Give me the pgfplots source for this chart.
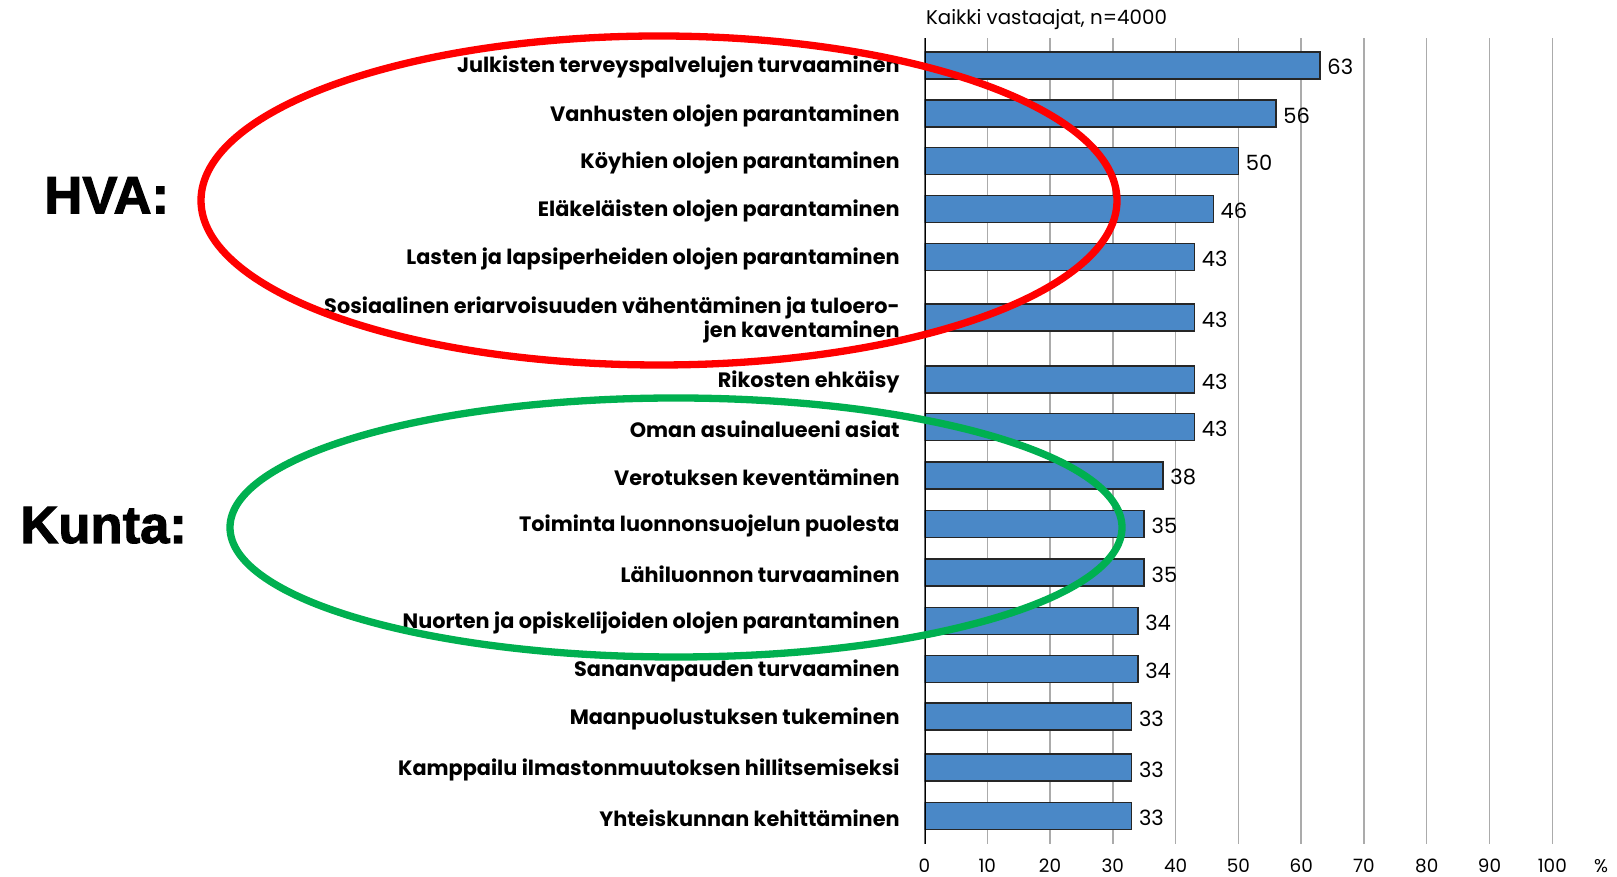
\documentclass[border=0pt]{standalone}
\usepackage{fontspec}
\setmainfont{Poppins}
\newfontfamily\heavyfont{Liberation Sans Bold}[FakeBold=2]
\usepackage{pgfplots}
\pgfplotsset{compat=1.18}
\definecolor{barblue}{RGB}{74,136,199}
\definecolor{ellred}{RGB}{255,0,0}
\definecolor{ellgreen}{RGB}{0,176,80}
\begin{document}
\begin{tikzpicture}[x=1pt,y=1pt]
\useasboundingbox (0,0) rectangle (808.5,438.5);
\begin{axis}[
  at={(462.25pt,16.5pt)}, anchor=south west,
  scale only axis, width=313.9pt, height=402.85pt,
  xmin=0, xmax=100, ymin=38.3, ymax=844, y dir=reverse,
  xtick={0,10,...,100},
  ytick={65.3,113.7,161,209,257,317.6,379.5,427,475.4,523.9,572.4,620.8,669,716.7,767.5,816},
  yticklabels={Julkisten terveyspalvelujen turvaaminen,
    Vanhusten olojen parantaminen,
    Köyhien olojen parantaminen,
    Eläkeläisten olojen parantaminen,
    Lasten ja lapsiperheiden olojen parantaminen,
    {Sosiaalinen eriarvoisuuden vähentäminen ja tuloero-\\jen kaventaminen},
    Rikosten ehkäisy,
    Oman asuinalueeni asiat,
    Verotuksen keventäminen,
    Toiminta luonnonsuojelun puolesta,
    Lähiluonnon turvaaminen,
    Nuorten ja opiskelijoiden olojen parantaminen,
    Sananvapauden turvaaminen,
    Maanpuolustuksen tukeminen,
    Kamppailu ilmastonmuutoksen hillitsemiseksi,
    Yhteiskunnan kehittäminen},
  major tick length=0pt,
  xmajorgrids=true, ymajorgrids=false,
  major grid style={color=black!33, line width=0.7pt},
  axis line style={draw=none},
  xticklabel style={font=\fontsize{9.2}{10}\selectfont, anchor=base, inner sep=0pt, yshift=-14.4pt},
  yticklabel style={font=\bfseries\fontsize{10.4}{11}\selectfont, anchor=east, align=right, inner sep=0pt, xshift=-12.25pt, yshift=-1pt},
  /pgf/number format/assume math mode=true,
  xbar, bar width=27,
  nodes near coords,
  every node near coord/.append style={font=\fontsize{10.5}{12}\selectfont, anchor=west, black, yshift=-1pt},
]
\addplot[fill=barblue, draw=black!85, line width=0.75pt] coordinates {
  (63,65.3) (56,113.7) (50,161) (46,209) (43,257) (43,317.6) (43,379.5) (43,427)
  (38,475.4) (35,523.9) (35,572.4) (34,620.8) (34,669) (33,716.7) (33,767.5) (33,816)};
\draw[line width=1.4pt, black] (axis cs:0,38.3) -- (axis cs:0,844);
\end{axis}
\node[anchor=base west, inner sep=0pt, font=\fontsize{9.9}{11}\selectfont] at (462.8,426.2) {Kaikki vastaajat, n=4000};
\node[anchor=base, inner sep=0pt, font=\fontsize{9.2}{10}\selectfont] at (800.5,2.1) {\%};
\draw[ellred, line width=3.65pt] (329.5,338.25) ellipse [x radius=229, y radius=82.25];
\draw[ellgreen, line width=3.65pt] (338,174.75) ellipse [x radius=223, y radius=64.75];
\node[anchor=base west, inner sep=0pt, font=\heavyfont\fontsize{26.3}{28}\selectfont] at (22,331.85) {HVA:};
\node[anchor=base west, inner sep=0pt, font=\heavyfont\fontsize{26.3}{28}\selectfont] at (10,167) {Kunta:};
\end{tikzpicture}
\end{document}
